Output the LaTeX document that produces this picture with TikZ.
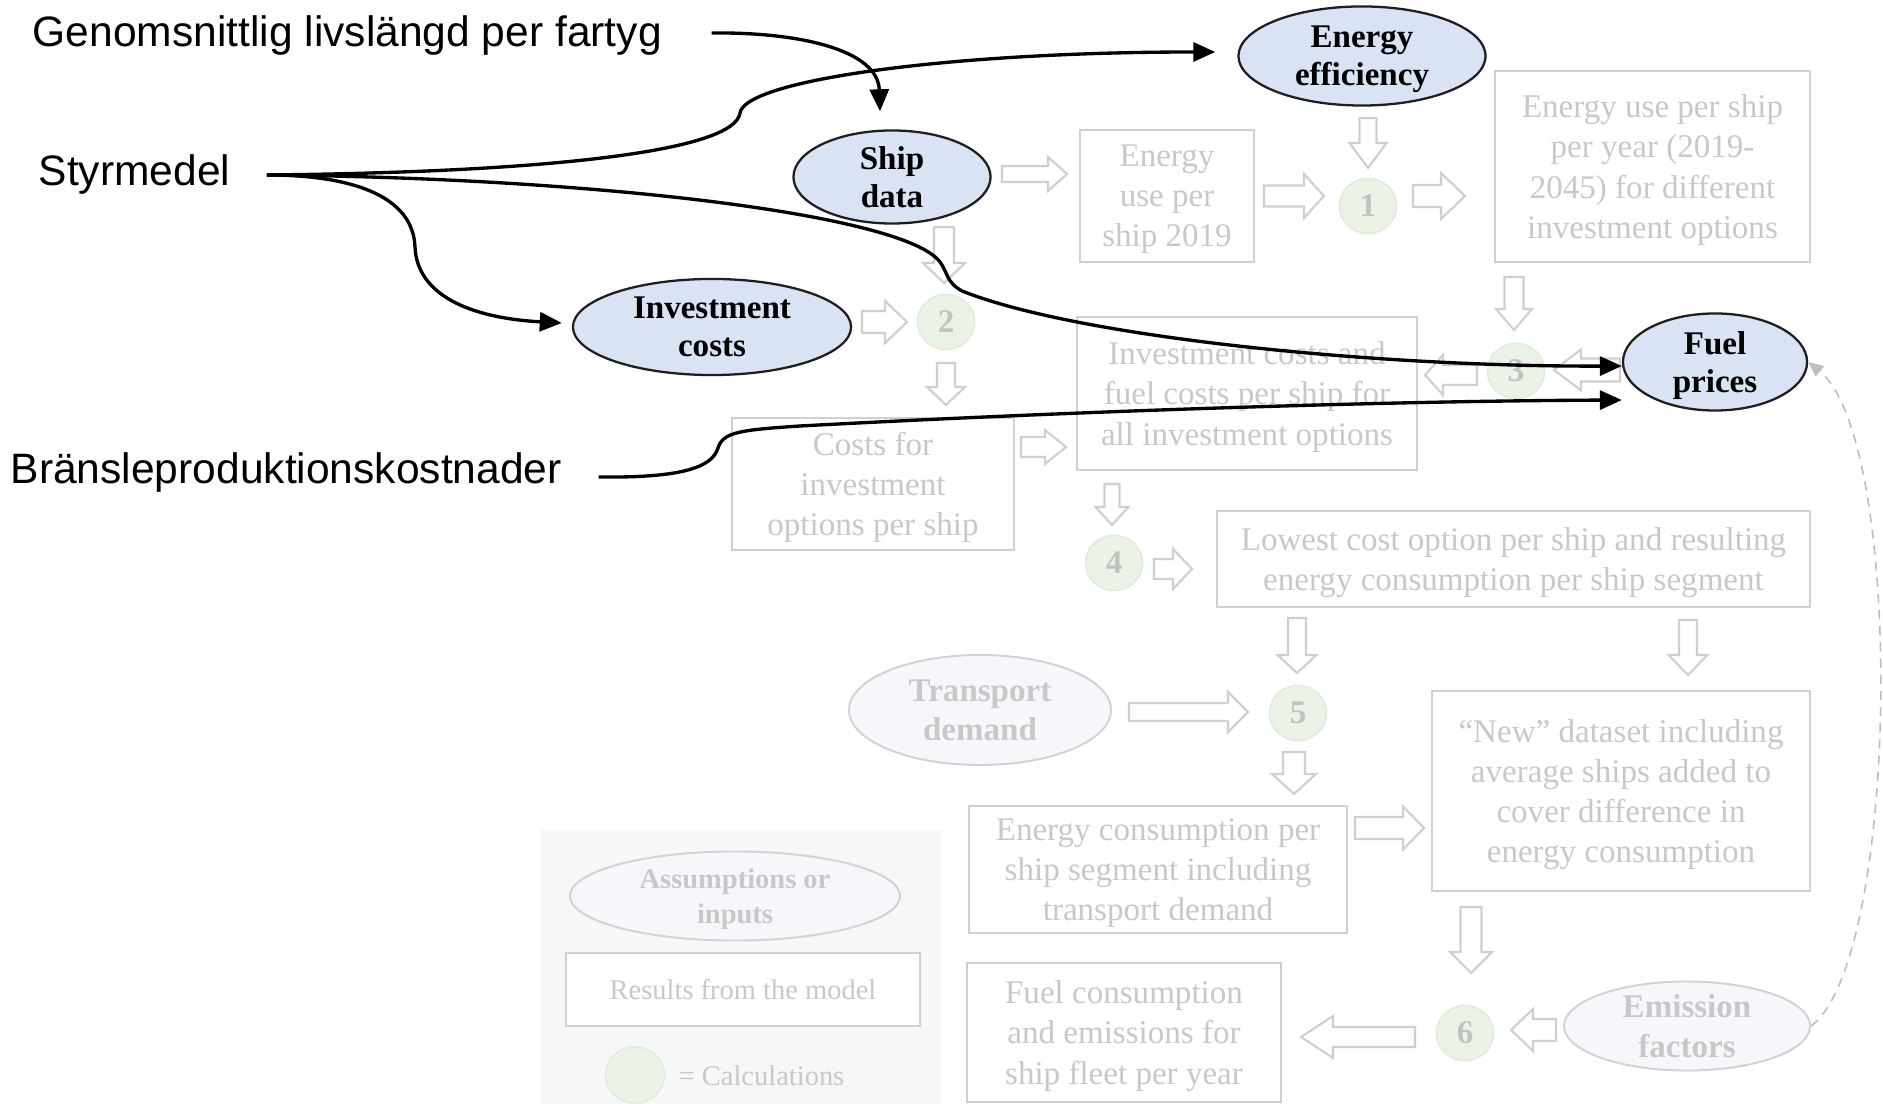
\documentclass[tikz,border=0pt]{standalone}
\usepackage{fontspec}
\setmainfont{Liberation Serif}
\newfontfamily\labelsans{Liberation Sans}
\usetikzlibrary{shapes.geometric,arrows.meta}

\definecolor{inblue}{HTML}{DAE3F3}
\definecolor{fadefill}{HTML}{F5F7FB}
\definecolor{fadeline}{HTML}{D2D2D2}
\definecolor{fadetext}{HTML}{C8C8C8}
\definecolor{boxline}{HTML}{D0D0D0}
\definecolor{arrline}{HTML}{CFCFCF}
\definecolor{calcfill}{HTML}{EBF3E7}
\definecolor{calcline}{HTML}{E1EDDC}
\definecolor{numtext}{HTML}{C2C2C2}
\definecolor{legendbg}{HTML}{F7F7F7}
\definecolor{dashgray}{HTML}{BDBDBD}

% hollow block arrow: tail x, tail y, angle, length, shaft half-width, head half-width, head length
\newcommand{\hollowarrow}[7]{%
  \draw[blockarrow, shift={(#1,#2)}, rotate=#3]
    (0,-#5) -- ({#4-#7},-#5) -- ({#4-#7},-#6) -- (#4,0) -- ({#4-#7},#6) -- ({#4-#7},#5) -- (0,#5) -- cycle;}

\tikzset{
  inputmain/.style={ellipse, draw=black!88, line width=0.65pt, fill=inblue, inner sep=0pt,
    align=center, text depth=-1pt, font=\fontsize{9.4}{10.8}\selectfont\bfseries},
  inputfaded/.style={ellipse, draw=fadeline, line width=0.55pt, fill=fadefill, inner sep=0pt,
    align=center, text depth=-1pt, text=fadetext, font=\fontsize{9.4}{11.2}\selectfont\bfseries},
  resultbox/.style={rectangle, draw=boxline, line width=0.6pt, inner sep=0pt, align=center,
    text depth=-2pt, text=fadetext, font=\fontsize{9.4}{11.4}\selectfont},
  calcstep/.style={ellipse, fill=calcfill, draw=calcline, line width=0.5pt, minimum width=0.57cm,
    minimum height=0.55cm, inner sep=0pt, text=numtext, font=\fontsize{9.4}{11}\selectfont\bfseries},
  blockarrow/.style={draw=arrline, fill=white, line width=0.6pt, line join=miter},
  policy/.style={draw=black, line width=0.95pt, -{Triangle[length=0.22cm,width=0.19cm]}},
  swedish/.style={font=\labelsans\fontsize{12.1}{14}\selectfont, inner sep=0pt, anchor=base west},
  feedback/.style={draw=dashgray, line width=0.45pt, dash pattern=on 2.6pt off 2pt,
    -{Triangle[length=0.15cm,width=0.13cm]}},
}

\begin{document}
\begin{tikzpicture}[x=0.01cm, y=0.01cm]
\useasboundingbox (0,0) rectangle (1883,-1104);

% legend panel
\fill[legendbg] (541,-830) rectangle (942,-1104);

% result boxes
\node[resultbox, minimum width=1.74cm, minimum height=1.32cm] (e2019) at (1167,-196) {Energy\\use per\\ship 2019};
\node[resultbox, minimum width=3.15cm, minimum height=1.91cm] (eyear) at (1652.5,-166.5) {Energy use per ship\\per year (2019-\\2045) for different\\investment options};
\node[resultbox, minimum width=3.40cm, minimum height=1.53cm] (invbox) at (1247,-393.5) {Investment costs and\\fuel costs per ship for\\all investment options};
\node[resultbox, minimum width=2.82cm, minimum height=1.32cm] (costs) at (873,-484) {Costs for\\investment\\options per ship};
\node[resultbox, minimum width=5.93cm, minimum height=0.96cm] (lowest) at (1513.5,-559) {Lowest cost option per ship and resulting\\energy consumption per ship segment};
\node[resultbox, minimum width=3.78cm, minimum height=2.00cm] (newds) at (1621,-791) {“New” dataset including\\average ships added to\\cover difference in\\energy consumption};
\node[resultbox, minimum width=3.78cm, minimum height=1.27cm] (econs) at (1158,-869.5) {Energy consumption per\\ship segment including\\transport demand};
\node[resultbox, minimum width=3.14cm, minimum height=1.39cm] (fcons) at (1124,-1032.5) {Fuel consumption\\and emissions for\\ship fleet per year};

% calculation steps
\node[calcstep] (c1) at (1368,-206) {1};
\node[calcstep] (c2) at (946,-322) {2};
\node[calcstep] (c3) at (1516,-371) {3};
\node[calcstep] (c4) at (1114,-563) {4};
\node[calcstep] (c5) at (1298,-713) {5};
\node[calcstep] (c6) at (1465,-1033) {6};

% inputs
\node[inputmain, minimum width=2.47cm, minimum height=0.99cm] (eff) at (1362,-56) {Energy\\efficiency};
\node[inputmain, minimum width=1.97cm, minimum height=0.93cm] (ship) at (892,-177) {Ship\\data};
\node[inputmain, minimum width=2.78cm, minimum height=0.96cm] (inv) at (712,-327) {Investment\\costs};
\node[inputmain, minimum width=1.84cm, minimum height=0.97cm] (fuel) at (1715,-362) {Fuel\\prices};
\node[inputfaded, minimum width=2.62cm, minimum height=1.10cm] (trans) at (980,-710) {Transport\\demand};
\node[inputfaded, minimum width=2.46cm, minimum height=0.89cm] (emis) at (1687,-1026) {Emission\\factors};

% legend
\node[inputfaded, minimum width=3.30cm, minimum height=0.89cm, font=\fontsize{8.1}{10}\selectfont\bfseries] (assum) at (735,-896) {Assumptions or\\inputs};
\node[resultbox, fill=white, minimum width=3.54cm, minimum height=0.73cm, text depth=-1pt, font=\fontsize{8.1}{10}\selectfont] (results) at (743,-989.5) {Results from the model};
\node[calcstep, minimum width=0.59cm, minimum height=0.56cm] (lcalc) at (635,-1075) {};
\node[anchor=west, inner sep=0pt, text=fadetext, font=\fontsize{8.1}{10}\selectfont] (lcalctext) at (678,-1076) {= Calculations};

% block arrows of the model flow
\hollowarrow{1002}{-174}{0}{65}{8}{17}{19}
\hollowarrow{1264}{-196}{0}{60}{10.5}{22}{20}
\hollowarrow{1413}{-196}{0}{52}{11}{23}{24}
\hollowarrow{1368}{-118}{-90}{50}{8.5}{18.5}{25}
\hollowarrow{944}{-227}{-90}{56}{10}{21}{20}
\hollowarrow{862}{-322}{0}{45}{11}{21}{22}
\hollowarrow{946}{-363}{-90}{42}{9}{19}{18}
\hollowarrow{1514}{-277}{-90}{53}{9.5}{18}{21}
\hollowarrow{1620}{-370}{180}{66}{11.5}{20.5}{27}
\hollowarrow{1477}{-375}{180}{52}{10}{20}{18}
\hollowarrow{1021}{-447}{0}{45}{10}{17}{21}
\hollowarrow{1112}{-484}{-90}{41}{7.5}{16.5}{18}
\hollowarrow{1154}{-569}{0}{38}{10}{20}{19}
\hollowarrow{1297}{-618}{-90}{55}{9}{19.5}{18}
\hollowarrow{1688}{-620}{-90}{55}{9}{19.5}{20}
\hollowarrow{1129}{-712}{0}{119}{9}{20}{20}
\hollowarrow{1294}{-752}{-90}{42}{11}{22}{20}
\hollowarrow{1355}{-828}{0}{69}{11}{21.5}{21}
\hollowarrow{1471}{-907}{-90}{66}{10.5}{21}{21}
\hollowarrow{1556}{-1030}{180}{45}{11}{21}{22}
\hollowarrow{1415}{-1037}{180}{114}{10}{21}{32}

% feedback from emission factors to fuel prices
\draw[feedback] (emis.east) .. controls (1900,-960) and (1905,-440) .. (fuel.east);

% policy labels
\node[swedish] (gen) at (32,-47) {Genomsnittlig livslängd per fartyg};
\node[swedish] (styr) at (38,-186) {Styrmedel};
\node[swedish] (bran) at (10,-484) {Bränsleproduktionskostnader};

% policy influence arrows
\draw[policy] ([xshift=0.49cm,yshift=0.03cm]gen.east) .. controls (800,-32) and (878,-50) .. ([xshift=-0.12cm,yshift=0.18cm]ship.north);
\draw[policy] ([xshift=0.36cm]styr.east) .. controls (560,-172) and (735,-150) .. (740,-113)
  .. controls (745,-80) and (950,-52) .. ([xshift=-0.22cm,yshift=0.04cm]eff.west);
\draw[policy] ([xshift=0.36cm]styr.east) .. controls (600,-178) and (905,-215) .. (940,-262)
  .. controls (948,-273) and (946,-282) .. (962,-291)
  .. controls (1080,-338) and (1380,-367) .. ([yshift=-0.04cm]fuel.west);
\draw[policy] ([xshift=0.36cm]styr.east) .. controls (350,-175) and (413,-195) .. (415,-247)
  .. controls (417,-295) and (470,-318) .. ([xshift=-0.1cm,yshift=0.04cm]inv.west);
\draw[policy] ([xshift=0.36cm,yshift=-0.04cm]bran.east) .. controls (680,-478) and (712,-468) .. (718,-448)
  .. controls (723,-432) and (740,-430) .. (800,-426)
  .. controls (1100,-410) and (1400,-401) .. ([yshift=-0.38cm]fuel.west);
\end{tikzpicture}
\end{document}
